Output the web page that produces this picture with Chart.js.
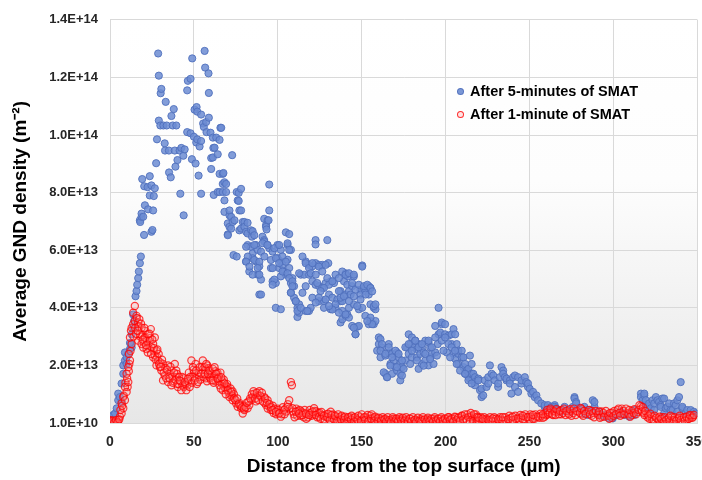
<!DOCTYPE html>
<html lang="en">
<head>
    <meta charset="UTF-8">
    <title>Average GND density</title>
    <script src="https://cdn.jsdelivr.net/npm/chart.js"></script>
    <style>
        * {
            margin: 0;
            padding: 0;
            box-sizing: border-box;
        }

        html, body {
            width: 702px;
            height: 480px;
            overflow: hidden;
            background: #fff;
        }

        /* a bit wider than the window so the last x label is cut like the original */
        .chart-container {
            position: relative;
            width: 720px;
            height: 480px;
        }

        .legend {
            position: absolute;
            left: 457px;
            top: 83px;
            font-family: "Liberation Sans", Arial, sans-serif;
            font-weight: bold;
            font-size: 14.5px;
            color: #000;
        }
        .legend div {
            height: 23px;
            line-height: 16px;
            white-space: nowrap;
        }
        .legend .mark {
            display: inline-block;
            width: 7px;
            height: 7px;
            border-radius: 50%;
            margin-right: 6px;
            vertical-align: 1px;
        }
        .mark.blue {
            background: rgba(108, 140, 210, 0.9);
            border: 1px solid rgba(80, 112, 188, 0.9);
        }
        .mark.red {
            background: rgba(255, 150, 150, 0.25);
            border: 1.5px solid rgba(255, 0, 0, 0.8);
        }
    </style>
</head>
<body>

<div class="chart-container">
    <canvas id="myChart"></canvas>
    <div class="legend">
        <div><span class="mark blue"></span>After 5-minutes of SMAT</div>
        <div><span class="mark red"></span>After 1-minute of SMAT</div>
    </div>
</div>

<script>
    // x = distance (µm), y = GND density in units of 1e13 m^-2
    var after5min = [
        [0,0.05],[0.5,0.03],[1,0.1],[2,0.28],[3,0.33],[4,0.51],[4.9,0.79],[4.9,1.02],[5.9,0.9],[6.9,0.73],
        [6.9,1.37],[7.9,1.71],[7.9,2.0],[8.9,2.17],[8.9,2.45],[9.9,2.05],[9.9,2.28],[10.9,2.4],[11.9,2.57],[12.5,2.74],
        [12.9,2.62],[12.9,3.08],[13.8,3.31],[13.8,3.77],[14.4,3.54],[15.2,4.4],[15.8,4.58],[16.2,4.8],[16.8,5.03],[17.2,5.26],
        [17.8,5.55],[18.4,5.78],[17.8,7.04],[18,6.98],[18.8,7.16],[18.8,7.27],[19.8,7.16],[20.3,6.53],[20.8,7.56],[22.7,7.42],
        [25.7,7.38],[24.7,6.64],[25.3,6.7],[11.9,2.78],
        [19.2,8.47],[20.4,8.22],[22.4,8.19],[23.7,8.57],[24.7,8.25],[26.7,8.15],[23.7,7.9],[26.1,7.88],[27.5,9.02],[28,9.85],
        [28.7,12.83],[29.1,12.06],[29.1,10.5],[30.2,11.45],[30.6,11.6],[30,10.33],[31.8,10.33],[32.6,9.71],[32.8,9.46],[33.2,11.15],
        [33.8,10.33],[35.1,9.46],[35.2,8.7],[36.2,8.53],[36.6,10.66],[37.4,10.33],[38,10.9],[38.6,9.46],[39,8.9],[39.5,10.33],
        [40.2,9.13],[41.5,9.46],[41.9,7.96],[42.5,9.55],[43.7,9.28],[43.9,7.21],[44.5,9.5],[46,11.55],[46,10.1],[46.4,11.88],
        [48,11.95],[48,10.06],[48.8,9.16],[49,12.66],[50,9.94],[50.4,10.88],[51,9.01],[51.4,9.74],[51.6,10.97],[52,10.81],
        [52,9.85],[52.8,8.59],[53.4,9.6],[54.3,10.71],[54.3,9.79],[54.3,7.96],[55.5,10.4],[55.9,10.28],[56.4,12.92],[56.7,12.34],
        [57.3,10.45],[57.5,10.1],[58.7,12.14],[58.9,11.46],[58.9,10.6],[59.9,10.08],[60.3,8.82],[60.3,9.2],[61.3,9.91],[61.6,9.55],
        [61.3,9.22],[61.8,7.92],[62.3,9.56],[63.3,9.91],[64.2,9.33],[64.2,8.02],[65.3,9.83],[65.3,8.65],[65.3,8.02],[65.8,10.25],
        [66.3,10.25],[67.2,8.65],[67.2,8.3],[67.2,8.02],[67.6,8.68],[68.2,8.36],[68.2,7.73],[68.2,7.33],[69.2,8.3],[69.2,8.02],
        [70.2,6.55],[70.2,6.93],[70.2,6.52],[71.2,7.21],[71.2,6.81],[71.2,7.38],[72.2,7.16],[72.2,6.75],[72.8,9.3],[73.1,6.98],
        [73.6,5.83],[74.2,7.04],[75.5,5.78],[75.5,8.02],[76.1,7.73],[76.7,7.99],[76.7,7.71],[77.1,7.38],[77.1,6.69],[78.1,8.13],
        [78.1,7.38],[78.1,6.75],[79.1,6.98],[80.1,6.98],[80.1,6.81],[81.1,6.64],[81.1,5.61],[82,6.95],[82,6.58],[82,6.18],
        [83,5.26],[84.1,6.69],[84.1,6.12],[84.6,6.47],[85,6.66],[85,5.89],[85,5.72],[86,6.52],[87,6.18],[87,5.61],
        [88,6.01],[88,5.15],[89,5.44],[89,4.46],[90,5.95],[90,4.98],[90.9,6.47],[91.9,7.09],[91.9,6.35],[91.9,6.3],
        [93,6.87],[93,6.81],[93.3,6.72],[93.9,7.04],[93.9,6.18],[94.5,7.04],[94.9,8.28],[94.9,7.38],[94.9,6.07],[95.9,5.38],
        [96.9,5.95],[96.9,4.92],[98.8,4.86],[98.8,4.0],[99.8,6.18],[99.8,5.73],[100.8,5.38],[101.8,6.01],[101.8,5.61],[101.8,3.95],
        [102.8,5.49],[103.8,5.26],[104.8,6.62],[104.8,5.15],[105.8,6.18],[105.8,5.67],[106.8,6.56],[106.8,5.38],[107.8,6.01],[107.8,4.86],
        [107.8,4.53],[108.7,5.03],[109.7,4.75],[109.7,4.35],[110.7,4.23],[111.7,4.0],[111.7,3.68],[112.7,3.83],[112.7,4.12],[113.7,5.15],
        [114.7,4.52],[115.7,5.15],[116.6,5.61],[116.6,4.75],[116.6,3.89],[118.6,5.49],[118.6,5.15],[118.6,3.89],[120.6,5.44],[120.6,4.92],
        [120.6,4.35],[122.5,6.35],[122.5,6.2],[122.5,5.55],[122.5,4.8],[124.6,5.49],[124.6,4.75],[124.6,4.23],[126.5,5.49],[126.5,4.69],
        [127.5,4.23],[127.5,4.0],[128.5,4.86],[129.5,6.35],[130.1,5.55],[130.5,4.46],[131.5,4.92],[131.5,3.95],[132.5,4.35],[133.5,4.86],
        [134.4,4.0],[135.5,4.29],[137.4,4.23],[137.4,4.58],[137.4,3.49],[138.4,3.89],[138.4,4.23],[138.4,3.6],[139.4,4.92],[140.4,5.15],
        [140.4,5.2],[140.4,4.46],[140.4,3.72],[141.4,3.77],[141.4,4.8],[141.9,5.09],[142.4,4.58],[142.4,4.0],[143.4,4.46],[144.3,4.75],
        [144.3,3.37],[145.3,5.09],[145.3,4.12],[146.3,3.08],[147.3,3.34],[148.3,3.95],[149.3,4.63],[149.3,4.46],[150.3,5.47],[150.3,4.0],
        [151.3,4.69],[152.2,4.58],[152.2,3.72],[154.2,4.75],[154.2,4.46],[154.2,3.43],[155.2,4.69],[155.2,4.12],[155.2,3.54],[157.2,4.0],
        [157.2,3.43],[158.2,3.95],[158.2,3.54],
        [81.1,6.12],[86,6.18],[90.9,6.24],[93.8,6.18],[97.9,6.07],[100.8,6.18],[105.8,6.24],[106.8,6.01],[82.1,5.78],[86,5.66],
        [89,5.6],[92,5.78],[95.9,5.66],[98.9,5.72],[100.8,5.55],[102.8,5.78],[104.8,5.6],[81.1,5.6],[83.1,5.43],[88,5.38],
        [85,5.15],[89,5.15],[96.9,5.38],[97.9,4.98],[101.8,5.09],[102.8,5.26],[105.8,5.2],[106.8,5.03],[108.7,4.92],[96.9,4.8],
        [90,4.46],[107.8,4.52],[108.7,4.75],[110.7,4.23],[111.7,3.89],[113.7,4.0],[112.7,5.2],[114.7,5.78],[116.6,5.55],[118.6,5.38],
        [120.6,5.55],[119.6,5.2],[122.6,5.15],[124.5,5.43],[126.5,5.26],[123.5,4.86],[128.5,5.49],[129.5,5.03],[130.5,4.8],[127.5,4.69],
        [125.5,4.58],[132.5,4.92],[134.4,5.15],[136.4,5.03],[138.4,5.26],[140.4,5.15],[142.4,5.2],[145.3,5.15],[144.3,4.86],[146.3,4.63],
        [148.3,4.8],[150.3,5.43],[151.3,4.75],[153.3,4.8],[155.2,4.69],[152.3,4.46],[156.2,4.57],[157.2,4.06],[158.2,4.12],[155.2,3.66],
        [156.2,3.43],[153.3,3.54],[148.3,3.37],[145.3,3.31],[146.3,3.08],[142.4,3.66],[140.4,3.77],[136.4,3.83],[137.4,4.35],[134.4,4.12],
        [132.5,3.94],[130.5,4.06],[128.5,4.29],[124.5,4.35],[122.6,4.18],[119.6,4.0],[117.6,3.89],[136.4,4.58],[139.4,4.4],[142.4,4.23],
        [145.3,4.4],[147.3,4.06],[149.3,4.29],
        [159.2,2.51],[160.2,2.74],[160.2,2.97],[161.2,2.91],[161.2,2.28],[162.1,2.62],[164.1,2.34],[164.1,1.71],[165.1,1.59],[166.1,2.74],
        [166.1,2.45],[167.1,2.05],[168.1,2.4],[168.1,1.71],[169.1,2.17],[170.1,1.94],[171,2.45],[171,1.82],[172,2.28],[173,2.05],
        [173,1.71],[173,1.48],[174,1.94],[174,1.65],[176,2.17],[177,2.62],[178,3.08],[178,2.4],[179,2.74],[179.9,2.97],
        [179.9,2.28],[180.9,2.62],[181.9,2.86],[182.9,2.57],[182.9,2.28],[183.9,2.74],[183.9,1.88],[184.9,2.4],[185.9,2.62],[185.9,2.05],
        [186.9,2.45],[187.9,2.86],[187.9,2.17],[189.8,2.8],[189.8,2.0],[190.8,2.62],[190.8,2.28],[191.8,2.4],[192.8,2.05],[193.8,2.45],
        [193.8,3.37],[195.3,2.74],[195.8,3.08],[195.8,4.0],[196.8,3.14],[197.7,3.43],[197.7,3.49],[199.7,3.08],[199.7,3.43],[200.7,2.45],
        [201.7,3.03],[203.6,2.74],[203.6,3.08],[204.7,3.26],[204.7,2.4],[205.7,3.08],[205.7,2.23],[206.6,2.74],[207.6,2.4],[207.6,2.05],
        [207.6,2.51],[209.6,2.51],[209.6,2.28],[210.6,2.28],[210.6,1.94],[211.6,2.05],[211.6,1.71],[212.6,1.82],[213.6,1.59],[213.6,1.77],
        [213.6,1.88],[214.5,2.34],[214.5,1.54],[215.5,2.05],[215.5,1.71],[215.5,1.48],[216.5,1.71],[217.5,1.59],[217.5,1.42],[217.5,1.31],
        [162.1,2.74],[161.2,2.51],[164.1,2.4],[166.1,2.63],[168.1,2.28],[170.1,2.51],[172,2.4],[174,2.17],[176,2.63],[178,2.74],
        [179.9,2.51],[181.9,2.86],[183.9,2.63],[185.9,2.74],[187.9,2.4],[189.8,2.86],[191.8,2.63],[193.8,2.97],[197.7,2.86],[199.7,2.97],
        [201.7,2.74],[203.6,2.63],[205.6,2.51],[163.1,1.76],[165.1,1.59],[167.1,1.99],[171,1.94],[175,1.88],[178.9,2.05],[182.9,2.17],
        [186.9,1.99],[190.8,2.22],[194.8,2.34],[198.7,2.51],[202.7,2.28],[206.6,2.05],[208.6,1.82],[211.6,1.71],[213.6,1.48],[215.5,1.37],
        [219.5,1.54],[219.5,1.48],[220.5,1.14],[221.4,0.9],[221.4,1.19],[222.4,0.96],[223.4,1.48],[224.4,1.25],[225.4,1.37],[225.4,1.59],
        [226.4,2.0],[227.4,1.71],[228.4,1.65],[229.4,1.48],[231.3,1.25],[231.3,1.37],[232.3,1.59],[233.3,1.94],[234.3,1.82],[234.3,1.71],
        [235.3,1.59],[236.3,1.48],[236.3,1.54],[238.3,1.48],[238.3,1.37],[239.2,1.02],[240.2,1.59],[241.3,1.25],[241.3,1.65],[243.2,1.08],
        [243.2,1.59],[245.2,1.37],[245.2,1.48],[247.2,1.59],[248.1,1.42],[249.1,1.25],[249.1,1.37],[250.1,1.19],[251.1,1.02],[252.1,1.08],
        [253.1,0.9],[254.1,0.96],[255.1,0.79],[257,0.68],[259,0.56],[259,0.62],[261,0.51],[261,0.62],[263,0.56],[263,0.51],
        [265,0.62],[265,0.56],[265.9,0.51],[266.9,0.45],[268.9,0.45],[268.9,0.39],[270.9,0.56],[272.9,0.45],[274.8,0.39],[275.8,0.56],
        [276.8,0.9],[276.8,0.85],[277.8,0.73],[277.8,0.68],[278.8,0.51],[280.8,0.51],[282.7,0.56],[282.8,0.33],[284.7,0.45],[284.7,0.28],
        [286.7,0.45],[287.7,0.79],[288.7,0.56],[288.7,0.73],[290.7,0.33],[291.7,0.39],[292.6,0.28],[294.6,0.28],[295.6,0.22],[297.6,0.16],
        [298.6,0.22],[299.6,0.16],[301.5,0.33],[302.5,0.28],[304.5,0.39],[306.5,0.28],[306.5,0.33],[309.5,0.22],[310.4,0.33],[312.4,0.45],
        [312.4,0.28],[316.4,1.02],[316.4,0.9],[317.4,0.79],[318.4,0.96],[318.4,1.02],[319.3,0.62],[319.3,0.79],[320.3,0.56],[321.3,0.68],
        [322.3,0.51],[323.3,0.79],[324.3,0.45],[324.3,0.68],[325.3,0.9],[326.3,0.79],[327.2,0.73],[328.2,0.62],[328.2,0.56],[329.2,0.85],
        [330.2,0.85],[330.2,0.33],[331.2,0.51],[332.2,0.56],[333.2,0.68],[334.1,0.45],[335.2,0.45],[336.1,0.68],[337.1,0.62],[338.1,0.79],
        [338.1,0.39],[339.1,0.9],[340.1,1.42],[341.1,0.51],[341.1,0.56],[343,0.33],[344,0.45],[346,0.45],[346,0.28],[348,0.39],
        [349,0.33]
    ];

    var after1min = [
        [0,0.05],[1,0.03],[2,0.06],[3,0.04],[4,0.08],[4.9,0.1],[5.9,0.22],[6.9,0.33],[6.9,0.68],[7.9,0.51],
        [0.5,0.1],[1.5,0.08],[2.5,0.02],[3.5,0.1],[4.5,0.03],[5.5,0.12],[6.2,0.45],[7.2,0.6],[8.2,0.95],[9.2,1.4],
        [10.2,1.55],[11.2,1.8],[12.2,2.5],[10.5,1.25],[11.5,2.05],
        [7.9,0.9],[8.9,0.79],[8.9,1.25],[9.9,1.08],[9.9,1.71],[10.9,1.42],[10.9,1.94],[11.9,2.17],[11.3,2.4],[12.9,2.74],
        [11.9,2.97],[12.5,3.2],[12.9,3.31],[13.8,3.43],[13.8,3.83],[14.8,3.54],[14.8,4.06],[15.8,3.72],[16.8,3.49],[16.8,2.86],
        [15,3.3],[16,3.65],[17,3.35],[18,3.0],[19,3.05],[20,2.8],[21,3.2],[22,2.85],[23,2.6],[24,2.95],[26,2.5],[28,2.3],
        [17.8,3.08],[18.8,3.31],[18.8,2.74],[19.8,2.62],[20.8,2.97],[21.8,2.57],[22.7,3.08],[23.7,2.86],[24.3,3.26],[24.7,2.62],
        [25.7,2.74],[25.7,2.28],[26.7,2.97],[26.7,2.34],[27.7,2.51],[27.7,2.0],[28.7,2.17],[29.7,1.94],[30.6,1.82],[31.6,2.05],
        [31.6,1.48],[32.6,1.65],[34.6,2.0],[34.6,1.42],[36.6,1.82],[36.6,1.31],[38.6,2.05],[39.5,1.82],[39.5,1.59],[40.5,1.25],
        [29,2.4],[30,2.1],[33,1.9],[35,1.7],[37,1.6],[38,1.45],[40,1.7],[41,1.35],[43,1.6],[44,1.25],
        [46,1.3],[47,1.75],[49,1.6],[50,1.75],[51,2.05],[53,1.6],[55,1.85],[57,1.55],[58,2.0],[59,1.6],
        [60,1.75],[62,1.6],[63,1.45],[64,1.75],[65,1.6],[67,1.45],[68,1.25],[69,1.3],[70,1.25],[72,0.95],[73,1.1],
        [14,3.0],[15.5,3.1],[16.5,3.2],[17.5,3.6],[18.5,3.45],[19.5,2.9],[20.5,3.3],[21.5,2.7],[22.5,2.45],[23.5,3.1],
        [24.5,2.4],[25.2,2.9],[26.2,2.6],[27.2,2.2],[28.2,2.55],[29.2,2.05],[30.2,1.95],[31,2.2],[32,1.75],[33.5,1.55],
        [34,1.85],[35.5,1.55],[36,1.95],[37.5,1.4],[38.2,1.75],[39,1.5],[40.2,1.35],[41.2,1.6],[42,1.45],[43.2,1.3],
        [44,1.55],[45,1.35],[46.8,1.45],[47.8,1.6],[48.8,1.4],[49.8,1.85],[50.8,1.55],[51.8,1.35],[52.8,1.75],[53.8,1.5],
        [54.8,1.95],[55.8,1.6],[56.8,1.85],[57.8,1.45],[58.8,1.9],[59.8,1.55],[60.8,1.7],[61.8,1.4],[62.8,1.8],[63.8,1.55],
        [64.8,1.45],[65.8,1.75],[66.8,1.35],[67.8,1.5],[68.8,1.2],[69.8,1.35],[70.8,1.05],[71.8,1.2],[72.8,0.95],[73.8,1.0],
        [41.5,1.48],[42.5,1.14],[44.5,1.42],[45.5,1.14],[46.4,1.54],[47.5,1.25],[48.5,2.17],[49.4,1.94],[50.4,1.48],[51.4,1.82],
        [52.4,1.42],[53.4,1.94],[54.4,1.71],[55.3,2.17],[56.4,1.94],[56.4,1.71],[57.4,2.05],[58.3,1.71],[59.3,1.82],[60.3,1.48],
        [61.3,1.88],[61.3,1.48],[62.3,1.94],[63.3,1.71],[64.2,1.54],[65.3,1.31],[66.3,1.59],[67.2,1.14],[68.2,1.37],[70.2,1.14],
        [71.2,0.9],[72.2,1.08],[73.1,0.79],[75.2,0.68],[76.1,0.56],[78.1,0.51],[79.1,0.33],[80.1,0.45],[82,0.51],[83,0.62],
        [84.1,0.79],[85,0.9],[86,1.02],[88,0.96],[90,0.9],[91.9,0.9],[93,0.62],[93.9,0.79],[94.9,0.56],[95.9,0.45],
        [66,1.2],[69,1.0],[74,0.85],[77,0.7],[80,0.6],[87,0.75],[89,1.1],[92,0.7],[97,0.6],[100,0.5],
        [74.8,0.8],[75.8,0.85],[76.8,0.65],[77.8,0.6],[78.8,0.55],[79.8,0.5],[80.8,0.55],[81.5,0.7],[82.5,0.75],[83.5,0.85],
        [84.5,1.0],[85.5,1.1],[86.5,0.85],[87.5,1.05],[88.5,0.8],[89.5,0.95],[90.5,1.05],[91,0.75],[92.5,0.85],[93.5,0.7],
        [94,0.5],[95,0.65],[96,0.55],[97.5,0.35],[98,0.5],[99,0.3],[100.2,0.45],[101,0.35],[102.5,0.3],[103,0.55],
        [104.5,0.5],[105,0.4],[106,0.65],[107,0.5],[109,0.4],[109.5,0.3],[111,0.5],[111.5,0.25],[112,0.42],[113.5,0.25],
        [114,0.4],[115,0.35],[115.5,0.2],[116,0.45],[117.5,0.3],[118,0.2],[119.5,0.35],[120,0.25],[121,0.3],[122,0.42],
        [123.5,0.2],[124,0.35],
        [96.9,0.45],[98.9,0.39],[100.8,0.33],[101.8,0.22],[103.8,0.45],[105.8,0.56],[106.8,0.79],[107.8,1.42],[108.4,1.31],[108.7,0.51],
        [104,0.3],[110,0.2],[113,0.45],[117,0.15],[119,0.45],[123,0.4],[125,0.35],[127,0.12],[129,0.3],[133,0.3],
        [110.7,0.39],[112.7,0.33],[114.7,0.28],[116.7,0.33],[118.6,0.28],[120.6,0.39],[121.6,0.51],[122.6,0.28],[124.6,0.22],[126.5,0.28],
        [128.5,0.22],[130.5,0.16],[131.5,0.39],[132.5,0.16],[134.5,0.1],[136.5,0.1],[138.4,0.08],[140.4,0.05],[142.4,0.08],[144.3,0.1],
        [135,0.22],[137,0.2],[139,0.18],[141,0.15],[143,0.2],[145,0.18],[147,0.15],[149,0.2],[151,0.12],[153,0.1],
        [146.3,0.08],[148.3,0.05],[150.3,0.1],[152.3,0.2],[154.2,0.16],[156.2,0.1],[158.2,0.08],[160.2,0.05],[163.1,0.05],[166.1,0.03],
        [155,0.25],[157,0.18],[159,0.15],[161,0.15],[162,0.1],[164,0.15],[165,0.1],[168,0.12],[169,0.15],[171,0.12],
        [170,0.05],[172,0.08],[175,0.03],[178,0.05],[180.9,0.08],[183.9,0.05],[187.8,0.05],[191.8,0.08],[195.8,0.06],[199.7,0.05],
        [173,0.15],[174,0.1],[176,0.12],[177,0.1],[179,0.15],[182,0.12],[185,0.14],[186,0.1],[189,0.13],[190,0.1],
        [193,0.15],[194,0.1],[197,0.15],[198,0.1],[201,0.13],[202,0.2],[205,0.15],[206,0.2],[209,0.2],[210,0.25],
        [203.7,0.08],[207.6,0.1],[211.6,0.16],[213,0.3],[214.5,0.2],[215.5,0.25],[216,0.15],[217.5,0.2],[218,0.3],[219,0.1],
        [220.5,0.13],[223.4,0.1],
        [125.5,0.15],[126,0.38],[127.5,0.25],[128,0.1],[129.5,0.2],[130,0.32],[131,0.1],[132,0.28],[133.5,0.12],[134,0.25],
        [135.5,0.08],[136,0.3],[137.5,0.12],[138,0.25],[139.5,0.1],[140,0.22],[141.5,0.05],[142,0.2],[143.5,0.12],[144,0.25],
        [145.5,0.05],[146,0.2],[147.5,0.1],[148,0.25],[149.5,0.08],[150,0.3],[151.5,0.2],[152,0.1],[153.5,0.28],[154,0.06],
        [155.5,0.15],[156,0.3],[157.5,0.08],[158,0.22],[159.5,0.05],[160,0.18],[161.5,0.08],[162.5,0.2],[163.5,0.12],[164.5,0.05],
        [165.5,0.2],[166.5,0.1],[167.5,0.05],[168.5,0.2],[169.5,0.05],[170.5,0.15],[171.5,0.05],[172.5,0.2],[173.5,0.08],[174.5,0.18],
        [175.5,0.08],[176.5,0.2],[177.5,0.05],[178.5,0.15],[179.5,0.05],[180.5,0.2],[181.5,0.1],[182.5,0.05],[183.5,0.18],[184.5,0.08],
        [185.5,0.05],[186.5,0.2],[187.5,0.12],[188.5,0.05],[189.5,0.18],[190.5,0.06],[191.5,0.15],[192.5,0.05],[193.5,0.2],[194.5,0.08],
        [195.5,0.15],[196.5,0.05],[197.5,0.2],[198.5,0.08],[199.5,0.15],[200.5,0.05],[201.5,0.2],[202.5,0.1],[203.5,0.15],[204.5,0.05],
        [205.5,0.22],[206.5,0.1],[207.5,0.18],[208.5,0.08],[209.5,0.25],[210.5,0.12],[211.5,0.3],[212.5,0.1],[213.5,0.2],[214.5,0.05],
        [215,0.35],[216.5,0.08],[217,0.3],[218.5,0.05],[219,0.22],[220,0.06],[221,0.2],[222.5,0.1],[223,0.2],[224,0.05],
        [224.5,0.15],[226,0.05],[226.5,0.2],[227,0.1],[229,0.2],[229.5,0.05],[230,0.15],[232,0.06],[232.5,0.2],[233,0.12],
        [235,0.05],[235.5,0.2],[236,0.1],[238,0.25],[238.5,0.08],[239,0.18],[241,0.08],[241.5,0.25],[242,0.15],[244,0.1],
        [244.5,0.28],[245,0.18],[247,0.12],[247.5,0.3],[248,0.2],[250,0.12],[250.5,0.3],[251,0.22],[253,0.15],[253.5,0.3],
        [254,0.22],[256,0.18],[256.5,0.32],[257,0.25],[259,0.22],[259.5,0.35],[260,0.28],
        [219.5,0.08],[219.5,0.18],[222,0.05],[222,0.15],[225.4,0.1],[228,0.06],[228,0.16],[231.3,0.12],[234,0.08],[234,0.2],
        [237.3,0.13],[240,0.1],[240,0.22],[243.2,0.16],[246,0.12],[246,0.25],[249.1,0.2],[252,0.15],[252,0.28],[255.1,0.22],
        [258,0.18],[258,0.3],[261,0.39],[261,0.3],[263,0.45],[264,0.28],[264,0.42],[266.9,0.38],[269,0.3],[269,0.45],
        [272.9,0.35],[275,0.25],[275,0.42],[278.8,0.4],[281,0.3],[281,0.48],[284.7,0.38],[287,0.25],[287,0.42],[290.7,0.33],
        [293,0.22],[293,0.4],[296.6,0.3],[299,0.18],[299,0.36],[302.5,0.45],[305,0.3],[305,0.5],[308.5,0.35],[311,0.28],
        [311,0.42],[314.4,0.38],[316.4,0.58],[316.4,0.48],[318,0.35],[320.3,0.2],[320.3,0.3],[323,0.12],[323,0.22],[326.3,0.15],
        [329,0.08],[329,0.2],[332.2,0.12],[335,0.1],[335,0.2],[338.1,0.15],[341,0.08],[341,0.18],[344,0.12],[346,0.18],
        [346,0.25],[347.5,0.22],
        [260.5,0.45],[262,0.35],[262.5,0.5],[263.5,0.3],[265,0.4],[265.5,0.28],[266,0.48],[267.5,0.3],[268,0.42],[270,0.35],
        [270.5,0.5],[271.5,0.28],[272,0.42],[273.5,0.3],[274,0.48],[276,0.35],[276.5,0.5],[277.5,0.28],[278,0.42],[280,0.35],
        [280.5,0.52],[282,0.25],[282.5,0.42],[283.5,0.32],[285.5,0.45],[286,0.3],[288,0.35],[288.5,0.2],[289.5,0.42],[291,0.28],
        [291.5,0.4],[292,0.18],[294,0.35],[294.5,0.22],[295.5,0.42],[297,0.25],[297.5,0.15],[298,0.35],[300,0.25],[300.5,0.42],
        [301.5,0.3],[303,0.5],[303.5,0.35],[304,0.25],[306,0.42],[306.5,0.3],[307.5,0.5],[309,0.3],[309.5,0.45],[310,0.22],
        [312,0.35],[312.5,0.48],[313.5,0.3],[315,0.45],[315.5,0.62],[317,0.4],[317.5,0.55],[318.5,0.28],[319,0.42],[321,0.25],
        [321.5,0.15],[322,0.32],[324,0.1],[324.5,0.25],[325.5,0.18],[327,0.1],[327.5,0.22],[328.5,0.15],[330,0.05],[330.5,0.2],
        [331.5,0.1],[333,0.18],[333.5,0.08],[334,0.25],[336,0.1],[336.5,0.2],[337.5,0.08],[339,0.18],[339.5,0.25],[340,0.1],
        [342,0.2],[342.5,0.08],[343.5,0.22],[345,0.15],[345.5,0.28],[347,0.18],[348,0.28]
    ];

    // tick labels as printed on the original axis (first one is the axis minimum)
    var yTickLabels = ['1.0E+10', '2.0E+13', '4.0E+13', '6.0E+13', '8.0E+13', '1.0E+14', '1.2E+14', '1.4E+14'];
    var xTitle = 'Distance from the top surface (µm)';
    var yTitle = 'Average GND density (m⁻²)';

    function toPoints(list) {
        return list.map(function (p) { return { x: p[0], y: p[1] }; });
    }

    // light grey fade at the bottom of the plot area
    var plotBackground = {
        id: 'plotBackground',
        beforeDraw: function (chart) {
            var ctx = chart.ctx;
            var a = chart.chartArea;
            var g = ctx.createLinearGradient(0, a.top, 0, a.bottom);
            g.addColorStop(0, '#ffffff');
            g.addColorStop(0.4, '#fdfdfd');
            g.addColorStop(1, '#e7e7e7');
            ctx.save();
            ctx.fillStyle = g;
            ctx.fillRect(a.left, a.top, a.right - a.left, a.bottom - a.top);
            ctx.restore();
        }
    };

    Chart.defaults.font.family = '"Liberation Sans", Arial, sans-serif';

    var ctx = document.getElementById('myChart').getContext('2d');
    var myChart = new Chart(ctx, {
        type: 'scatter',
        data: {
            datasets: [
                {
                    label: 'After 5-minutes of SMAT',
                    data: toPoints(after5min),
                    order: 2,
                    pointRadius: 3.6,
                    backgroundColor: 'rgba(108, 140, 210, 0.85)',
                    borderColor: 'rgba(80, 112, 188, 0.9)',
                    borderWidth: 1
                },
                {
                    label: 'After 1-minute of SMAT',
                    data: toPoints(after1min),
                    order: 1,  // drawn on top
                    pointRadius: 3.6,
                    backgroundColor: 'rgba(255, 140, 140, 0.22)',
                    borderColor: 'rgba(255, 0, 0, 0.75)',
                    borderWidth: 1.2
                }
            ]
        },
        options: {
            responsive: true,
            maintainAspectRatio: false,
            animation: false,
            events: [],
            layout: {
                padding: { top: 16, right: 20, bottom: 0, left: 0 }
            },
            plugins: {
                legend: { display: false },
                tooltip: { enabled: false }
            },
            scales: {
                x: {
                    type: 'linear',
                    min: 0,
                    max: 350,
                    ticks: {
                        stepSize: 50,
                        padding: 11,
                        color: '#262626',
                        font: { size: 14, weight: 'bold' }
                    },
                    grid: { color: '#d9d9d9', drawTicks: false },
                    border: { color: '#d9d9d9' },
                    title: {
                        display: true,
                        text: xTitle,
                        color: '#000',
                        font: { size: 19, weight: 'bold' },
                        padding: { top: 0, bottom: 2 }
                    },
                    afterFit: function (scale) { scale.height = 57; }
                },
                y: {
                    min: 0,
                    max: 14,
                    ticks: {
                        stepSize: 2,
                        padding: 12,
                        color: '#262626',
                        font: { size: 13, weight: 'bold' },
                        callback: function (value, index) { return yTickLabels[index]; }
                    },
                    grid: { color: '#d9d9d9', drawTicks: false },
                    border: { color: '#d9d9d9' },
                    title: {
                        display: true,
                        text: yTitle,
                        color: '#000',
                        font: { size: 19, weight: 'bold' },
                        padding: { top: 9, bottom: 0 }
                    },
                    afterFit: function (scale) { scale.width = 110; }
                }
            }
        },
        plugins: [plotBackground]
    });
</script>
</body>
</html>
